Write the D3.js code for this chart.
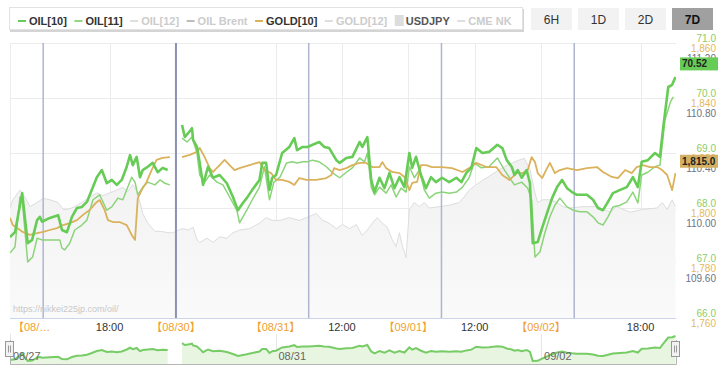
<!DOCTYPE html>
<html>
<head>
<meta charset="utf-8">
<script src="https://cdn.jsdelivr.net/npm/d3@7"></script>
<style>
  body { margin: 0; background: #fff; }
  svg { font-family: "Liberation Sans", Arial, "Noto Sans CJK JP", sans-serif; }
</style>
</head>
<body>
<div id="chart"></div>
<script>
// time = hours since 2021-08-27 00:00 JST (weekend 08/28 06:00 - 08/30 06:00 is cut out of the axis)
const oil10 = [
  [0,67.47],[0.9,67.56],[2.2,68.27],[3.2,67.36],[4.0,67.42],[4.9,67.78],[5.4,67.84],[5.8,67.75],
  [7.2,67.82],[8.7,67.87],[9.4,67.60],[10.3,67.56],[11.2,67.84],[12.1,68.00],[13.0,68.02],[13.9,68.11],
  [14.8,68.33],[15.7,68.56],[16.6,68.69],[17.5,68.45],[18.4,68.51],[19.3,68.42],[20.2,68.51],[21.1,68.75],
  [21.7,68.96],[22.2,68.78],[22.9,68.93],[23.5,68.56],[24.0,68.69],[24.9,68.75],[25.8,68.82],[26.7,68.65],
  [27.6,68.73],[28.5,68.69],[29.5,null],
  [79.1,69.51],[79.6,69.29],[80.2,69.36],[80.9,69.45],[81.1,69.24],[81.8,69.11],[82.3,68.82],[82.9,68.42],
  [83.8,68.75],[84.7,68.55],[85.9,68.60],[87.2,68.45],[88.3,68.20],[89.2,67.96],[90.1,68.09],[90.8,68.18],
  [91.8,68.33],[93.1,68.51],[93.6,68.82],[94.3,68.82],[94.9,68.33],[95.4,68.55],[96.1,68.60],[97.2,69.00],
  [98.5,69.11],[99.4,69.27],[99.9,69.05],[100.9,69.11],[101.8,69.11],[102.7,69.15],[103.9,69.20],[104.8,69.11],
  [105.7,69.09],[107.0,68.87],[107.6,68.82],[108.8,68.91],[109.9,68.93],[111.2,69.20],[111.7,69.11],[112.6,69.29],
  [113.3,68.51],[113.9,68.29],[114.8,68.55],[115.7,68.36],[116.6,68.64],[117.5,68.36],[118.4,68.56],[119.3,68.38],
  [120.2,69.00],[120.7,68.73],[121.4,68.93],[122.3,68.60],[123.2,68.36],[124.1,68.56],[125.0,68.47],[126.1,68.55],
  [127.4,68.47],[128.7,68.55],[129.6,68.47],[130.5,68.64],[131.4,68.73],[132.3,69.09],[133.4,69.00],[134.6,69.02],
  [136.1,69.15],[137.0,69.09],[137.8,68.87],[138.7,68.75],[139.2,68.60],[139.8,68.69],[140.5,68.55],[141.4,68.69],
  [142.0,68.45],[142.5,67.36],[143.4,67.38],[144.2,67.64],[145.1,67.91],[146.0,68.18],[146.9,68.38],[147.8,68.51],
  [148.7,68.36],[149.6,68.29],[150.5,68.24],[152.3,68.24],[153.4,68.15],[154.3,68.00],[155.2,67.96],[156.1,68.11],
  [157.0,68.27],[158.3,68.33],[159.5,68.38],[160.6,68.56],[161.5,68.38],[162.2,68.84],[163.3,68.87],[164.6,69.00],
  [165.5,68.93],[166.1,69.47],[167.0,70.20],[167.7,70.24],[168.3,70.38]
];
const oil11 = [
  [0,67.18],[0.9,67.29],[1.8,68.20],[2.2,68.15],[3.2,67.02],[4.1,67.11],[4.9,67.45],[5.8,67.42],
  [7.2,67.42],[9.0,67.42],[9.4,67.27],[9.9,67.24],[10.8,67.36],[11.7,67.60],[13.0,67.69],[13.9,67.78],
  [15.0,68.15],[16.2,68.24],[17.5,67.96],[18.4,68.02],[19.5,68.18],[20.4,68.15],[21.3,68.38],[22.0,68.56],
  [22.6,68.47],[23.1,68.24],[24.0,68.38],[24.9,68.47],[26.2,68.42],[27.1,68.51],[28.0,68.45],[28.9,68.42],[29.5,null],
  [79.1,69.27],[80.0,69.20],[80.9,69.29],[81.8,69.00],[82.3,68.60],[83.2,68.47],[84.1,68.60],[85.4,68.47],
  [86.5,68.42],[87.7,68.20],[89.0,67.96],[89.5,67.73],[90.8,67.96],[91.8,68.15],[93.1,68.38],[94.0,68.75],
  [94.9,68.15],[95.7,68.47],[96.8,68.56],[98.0,68.82],[99.0,68.84],[99.9,68.82],[100.9,68.84],[101.8,68.84],
  [102.7,68.87],[103.9,68.84],[105.2,68.75],[106.3,68.64],[107.6,68.55],[108.8,68.65],[109.9,68.73],[111.2,68.91],
  [112.1,68.84],[112.6,69.00],[113.3,68.38],[113.9,68.24],[114.8,68.38],[116.0,68.27],[116.9,68.42],[117.8,68.20],
  [118.7,68.36],[119.6,68.29],[120.2,68.75],[121.1,68.55],[122.0,68.69],[122.9,68.33],[123.8,68.18],[125.0,68.27],
  [126.1,68.29],[127.4,68.27],[128.7,68.29],[129.8,68.38],[131.0,68.55],[131.9,68.82],[133.2,68.73],[134.6,68.75],
  [136.1,68.91],[137.4,68.69],[138.3,68.55],[139.2,68.42],[140.5,68.47],[141.6,68.36],[142.3,68.15],[142.9,67.11],
  [143.8,67.20],[144.7,67.55],[145.6,67.84],[146.5,68.05],[147.4,68.18],[148.7,68.02],[149.8,67.96],[151.0,67.93],
  [152.3,67.93],[153.4,67.84],[154.3,67.73],[155.2,67.69],[156.1,67.84],[157.0,68.02],[158.3,68.05],[159.5,68.11],
  [160.6,68.29],[161.5,68.09],[162.2,68.60],[163.3,68.65],[164.6,68.75],[165.5,68.78],[166.4,69.60],[167.4,69.93],
  [167.9,70.02]
];
const gold10 = [
  [0,1796.4],[0.5,1793.8],[1.3,1792.7],[2.3,1791.3],[3.6,1790.2],[4.9,1790.9],[6.0,1791.3],[7.2,1792.0],
  [8.5,1792.7],[9.6,1793.8],[10.8,1794.5],[12.1,1795.6],[13.2,1797.5],[14.4,1799.3],[15.7,1802.2],[16.2,1802.9],
  [17.1,1799.3],[17.7,1795.6],[18.6,1794.9],[19.8,1794.9],[21.1,1793.8],[22.0,1790.2],[22.6,1788.4],[23.1,1803.6],
  [23.8,1806.5],[24.7,1809.5],[25.6,1813.8],[26.5,1817.5],[27.6,1818.2],[28.9,1818.5],[29.5,null],
  [79.1,1818.5],[80.5,1819.3],[81.8,1820.4],[82.3,1821.8],[83.2,1818.5],[84.1,1814.5],[84.7,1813.1],[85.9,1815.6],
  [86.8,1817.5],[87.7,1815.6],[88.6,1813.8],[89.5,1814.5],[91.3,1815.6],[93.1,1816.7],[94.0,1813.8],[95.2,1812.7],
  [96.1,1810.2],[97.2,1810.2],[98.5,1809.5],[99.4,1808.4],[100.3,1810.9],[101.6,1810.2],[103.4,1810.2],[105.2,1810.9],
  [106.1,1812.0],[106.6,1814.5],[107.6,1813.8],[108.8,1814.5],[109.9,1815.6],[111.2,1816.4],[112.4,1816.4],[113.5,1814.9],
  [114.8,1814.9],[115.3,1816.7],[116.0,1814.5],[117.1,1813.1],[118.4,1812.7],[119.3,1811.3],[120.2,1806.5],[120.7,1809.1],
  [121.6,1809.5],[122.3,1815.6],[123.2,1815.6],[124.3,1814.9],[126.1,1814.9],[127.9,1814.5],[129.8,1813.1],[131.0,1814.5],
  [132.3,1816.4],[134.1,1814.9],[135.9,1814.9],[137.0,1812.0],[138.3,1810.2],[139.6,1812.7],[140.7,1812.7],[141.6,1813.8],
  [142.3,1818.5],[142.9,1816.7],[143.4,1812.7],[144.2,1810.9],[145.1,1814.5],[145.6,1816.4],[146.5,1812.7],[147.4,1813.8],
  [148.7,1814.5],[150.5,1813.8],[152.3,1814.5],[154.1,1814.9],[155.2,1813.1],[156.8,1811.3],[157.9,1810.9],[159.2,1813.8],
  [160.4,1812.7],[161.3,1814.9],[162.4,1815.6],[163.7,1814.9],[165.0,1814.9],[165.9,1813.8],[166.8,1812.0],[167.7,1806.5],
  [168.3,1812.7]
];
const usdjpy = [
  [0,110.00],[0.5,110.06],[1.8,110.13],[2.7,110.08],[3.6,110.01],[4.9,110.04],[6.0,110.07],[7.2,110.06],
  [8.7,110.04],[9.6,109.99],[10.5,109.99],[11.7,110.01],[13.0,110.04],[14.1,110.07],[15.7,110.11],[16.8,110.09],
  [18.0,110.11],[19.3,110.13],[20.4,110.15],[21.3,110.12],[22.2,110.17],[22.9,110.12],[23.5,110.04],[24.0,109.96],
  [24.9,109.89],[26.2,109.83],[27.4,109.83],[28.5,109.82],[29.4,109.82],
  [79.1,109.85],[80.2,109.84],[81.1,109.86],[81.8,109.77],[82.3,109.75],[83.6,109.78],[84.7,109.75],[85.9,109.79],
  [87.2,109.78],[88.3,109.82],[89.5,109.84],[91.3,109.85],[93.1,109.89],[94.3,109.93],[95.4,109.91],[96.8,109.91],
  [98.5,109.93],[100.3,109.91],[101.6,109.93],[103.4,109.96],[104.5,109.91],[105.7,109.89],[107.0,109.85],[108.1,109.88],
  [109.4,109.85],[110.6,109.88],[111.7,109.80],[112.6,109.84],[113.5,109.89],[114.4,109.93],[115.3,109.89],[116.2,109.86],
  [117.1,109.77],[117.8,109.72],[118.4,109.82],[118.9,109.73],[119.6,109.64],[120.2,109.99],[121.1,110.04],[122.0,110.01],
  [122.9,110.04],[123.8,110.00],[125.6,110.01],[127.4,110.02],[129.2,110.04],[130.1,110.08],[131.0,110.13],[132.3,110.17],
  [133.4,110.20],[134.6,110.23],[136.5,110.28],[137.8,110.31],[138.9,110.33],[140.1,110.35],[141.0,110.36],[142.0,110.28],
  [142.9,110.11],[143.4,110.04],[144.3,110.06],[145.6,110.06],[146.9,110.04],[148.0,110.01],[149.2,110.00],[151.6,110.01],
  [154.1,110.01],[156.5,109.97],[157.7,110.01],[160.1,109.97],[162.4,109.99],[165.0,110.00],[165.9,110.04],[166.8,109.99],
  [167.7,110.06],[168.3,110.01]
];
const lastOil = 70.52;
const lastGold = 1815.0;

const oilTicks = [66, 67, 68, 69, 70, 71];
const goldTicks = [1760, 1780, 1800, 1820, 1840, 1860];
const usdTicks = [109.6, 110.0, 110.4, 110.8, 111.2];
const timeTicks = [0, 18, 78, 96, 108, 120, 132, 144, 162];
const timeLabels = ["【08/…", "18:00", "【08/30】", "【08/31】", "12:00", "【09/01】", "12:00", "【09/02】", "18:00"];
const sessionStarts = [6, 78, 102, 126, 150];
const navTicks = [0, 96, 144];
const navLabels = ["08/27", "08/31", "09/02"];
const legendNames = ["OIL[10]", "OIL[11]", "OIL[12]", "OIL Brent", "GOLD[10]", "GOLD[12]", "USDJPY", "CME NK"];
const rangeButtons = ["6H", "1D", "2D", "7D"];

// ---- layout
const W = 726, H = 372;
const plot = {left: 10, right: 676, top: 43, bottom: 318};
const gapFrom = 30, gapTo = 78, tEnd = 168.4;
const xGap = plot.left + (plot.right - plot.left) * gapFrom / (gapFrom + tEnd - gapTo);

const x = d3.scaleLinear()
  .domain([0, gapFrom, gapTo, tEnd])
  .range([plot.left, xGap, xGap, plot.right]);
const yOil = d3.scaleLinear().domain([66, 71]).range([plot.bottom, plot.top]);
const yGold = d3.scaleLinear().domain([1760, 1860]).range([plot.bottom, plot.top]);
const yUsd = d3.scaleLinear().domain([109.2, 111.2]).range([plot.bottom, plot.top]);

const svg = d3.select("#chart").append("svg")
  .attr("width", W).attr("height", H);

svg.append("clipPath").attr("id", "clip")
  .append("rect")
  .attr("x", plot.left).attr("y", plot.top)
  .attr("width", plot.right - plot.left).attr("height", plot.bottom - plot.top);

const grad = svg.append("linearGradient").attr("id", "usdFill")
  .attr("x1", 0).attr("y1", 0).attr("x2", 0).attr("y2", 1);
grad.append("stop").attr("offset", "0%").attr("stop-color", "#f1f1f1");
grad.append("stop").attr("offset", "100%").attr("stop-color", "#fafafa");

// grid
svg.append("g").selectAll("line").data(oilTicks).join("line")
  .attr("x1", plot.left).attr("x2", plot.right)
  .attr("y1", d => Math.round(yOil(d)) + 0.5).attr("y2", d => Math.round(yOil(d)) + 0.5)
  .attr("stroke", "#ececec");
svg.append("g").selectAll("line").data(timeTicks).join("line")
  .attr("x1", d => Math.round(x(d)) + 0.5).attr("x2", d => Math.round(x(d)) + 0.5)
  .attr("y1", plot.top).attr("y2", plot.bottom)
  .attr("stroke", "#ececec");

const g = svg.append("g").attr("clip-path", "url(#clip)");

// USDJPY area
g.append("path").datum(usdjpy)
  .attr("fill", "url(#usdFill)")
  .attr("d", d3.area().x(d => x(d[0])).y0(plot.bottom).y1(d => yUsd(d[1])));
g.append("path").datum(usdjpy)
  .attr("fill", "none").attr("stroke", "#dddddd").attr("stroke-width", 1)
  .attr("d", d3.line().x(d => x(d[0])).y(d => yUsd(d[1])));

// session start lines
g.selectAll(".sess").data(sessionStarts).join("line")
  .attr("class", "sess")
  .attr("x1", d => x(d)).attr("x2", d => x(d))
  .attr("y1", plot.top).attr("y2", plot.bottom)
  .attr("stroke", d => d === gapTo ? "#8a90b6" : "#afb5d0")
  .attr("stroke-width", d => d === gapTo ? 2 : 1.5);

const lineOf = y => d3.line().defined(d => d[1] != null).x(d => x(d[0])).y(d => y(d[1]));

g.append("path").datum(oil11)
  .attr("fill", "none").attr("stroke", "#8bd47a").attr("stroke-width", 1.5)
  .attr("stroke-linejoin", "round").attr("d", lineOf(yOil));
g.append("path").datum(gold10)
  .attr("fill", "none").attr("stroke", "#dab25c").attr("stroke-width", 1.8)
  .attr("stroke-linejoin", "round").attr("d", lineOf(yGold));
g.append("path").datum(oil10)
  .attr("fill", "none").attr("stroke", "#66cc55").attr("stroke-width", 2.6)
  .attr("stroke-linejoin", "round").attr("d", lineOf(yOil));

// watermark
svg.append("text").attr("x", plot.left + 3).attr("y", plot.bottom - 6)
  .attr("font-size", 9).attr("fill", "#c8c8c8")
  .text("https://nikkei225jp.com/oil/");

// x axis
svg.append("line")
  .attr("x1", plot.left).attr("x2", plot.right)
  .attr("y1", plot.bottom + 0.5).attr("y2", plot.bottom + 0.5)
  .attr("stroke", "#ccd6eb");
svg.append("g").selectAll("text").data(timeTicks).join("text")
  .attr("x", (d, i) => i === 0 ? x(d) + 3 : x(d))
  .attr("y", plot.bottom + 13)
  .attr("text-anchor", (d, i) => i === 0 ? "start" : "middle")
  .attr("font-size", 11)
  .attr("fill", (d, i) => timeLabels[i].startsWith("【") ? "#f0a030" : "#333")
  .text((d, i) => timeLabels[i]);

// right axes (three stacked label sets)
const ax = svg.append("g").attr("text-anchor", "end").attr("font-size", 10);
ax.selectAll(".o").data(oilTicks).join("text").attr("class", "o")
  .attr("x", 716).attr("y", d => yOil(d) - 1).attr("fill", "#8ccc6a")
  .text(d3.format(".1f"));
ax.selectAll(".gd").data(goldTicks).join("text").attr("class", "gd")
  .attr("x", 716).attr("y", d => yGold(d) + 9).attr("fill", "#e6b85e")
  .text(d3.format(","));
ax.selectAll(".u").data(usdTicks).join("text").attr("class", "u")
  .attr("x", 716).attr("y", d => yUsd(d) + 19).attr("fill", "#6a7487")
  .text(d3.format(".2f"));

// current value tags
[[yOil(lastOil), "#66cc55", d3.format(".2f")(lastOil)],
 [yGold(lastGold), "#d4b062", d3.format(",.1f")(lastGold)]].forEach(([yy, col, txt]) => {
  svg.append("rect").attr("x", 680).attr("y", yy - 12).attr("width", 38).attr("height", 13).attr("fill", col);
  svg.append("text").attr("x", 682).attr("y", yy - 2)
    .attr("font-size", 10).attr("font-weight", "bold").attr("fill", "#222").text(txt);
});

// navigator
const nav = {top: 334, bottom: 364};
const navVals = oil10.filter(d => d[1] != null).map(d => d[1]);
const yNav = d3.scaleLinear().domain(d3.extent(navVals)).range([361, 336]);
svg.append("g").selectAll("line").data(navTicks).join("line")
  .attr("x1", d => Math.round(x(d)) + 0.5).attr("x2", d => Math.round(x(d)) + 0.5)
  .attr("y1", nav.top).attr("y2", nav.bottom).attr("stroke", "#e6e6e6");
svg.append("path").datum(oil10)
  .attr("fill", "#e7f5e1")
  .attr("d", d3.area().defined(d => d[1] != null).x(d => x(d[0])).y0(nav.bottom).y1(d => yNav(d[1])));
svg.append("path").datum(oil10)
  .attr("fill", "none").attr("stroke", "#77cc66").attr("stroke-width", 2)
  .attr("d", lineOf(yNav));
svg.append("g").selectAll("text").data(navTicks).join("text")
  .attr("x", d => x(d) + 3).attr("y", 360)
  .attr("font-size", 11).attr("fill", "#666")
  .text((d, i) => navLabels[i]);
svg.append("path")
  .attr("d", `M${plot.left + 0.5},${nav.top + 6}V${nav.bottom + 0.5}H${plot.right + 0.5}V${nav.top + 6}`)
  .attr("fill", "none").attr("stroke", "#b5b5b5");
[plot.left, plot.right].forEach(hx => {
  const h = svg.append("g").attr("transform", `translate(${Math.round(hx) - 4.5},341.5)`);
  h.append("rect").attr("width", 8).attr("height", 15).attr("fill", "#f2f2f2").attr("stroke", "#999");
  h.append("path").attr("d", "M3,4V11M5,4V11").attr("stroke", "#999");
});

// legend
const legendStyle = [
  {color: "#66cc55", on: true}, {color: "#90d880", on: true}, {color: "#dedede", on: false},
  {color: "#bdbdbd", on: false}, {color: "#dab25c", on: true}, {color: "#dedede", on: false},
  {color: "#dddddd", on: true, box: true}, {color: "#dedede", on: false}
];
const lg = svg.append("g");
lg.append("rect").attr("x", 10).attr("y", 9).attr("width", 514).attr("height", 23).attr("fill", "#d4d4d4");
lg.append("rect").attr("x", 9.5).attr("y", 7.5).attr("width", 513).attr("height", 22)
  .attr("fill", "#fff").attr("stroke", "#e2e2e2");
let lx = 18;
legendNames.forEach((name, i) => {
  const s = legendStyle[i];
  if (s.box) {
    lg.append("rect").attr("x", lx).attr("y", 15).attr("width", 9).attr("height", 11).attr("fill", s.color);
  } else {
    lg.append("line").attr("x1", lx).attr("x2", lx + 8).attr("y1", 21).attr("y2", 21)
      .attr("stroke", s.color).attr("stroke-width", 2);
  }
  const t = lg.append("text").attr("x", lx + 11).attr("y", 25)
    .attr("font-size", 11).attr("font-weight", "bold")
    .attr("fill", s.on ? (s.box ? "#555" : "#333") : "#cccccc")
    .text(name);
  lx += 11 + t.node().getComputedTextLength() + 7.5;
});

// range buttons
const bt = svg.append("g").selectAll("g").data(rangeButtons).join("g")
  .attr("transform", (d, i) => `translate(${531 + i * 47},8)`);
bt.append("rect").attr("width", 41).attr("height", 22)
  .attr("fill", (d, i) => i === 3 ? "#a0a0a0" : "#f2f2f2");
bt.append("text").attr("x", 20.5).attr("y", 15.5).attr("text-anchor", "middle")
  .attr("font-size", 12).attr("font-weight", (d, i) => i === 3 ? "bold" : "normal")
  .attr("fill", (d, i) => i === 3 ? "#111" : "#333")
  .text(d => d);
</script>
</body>
</html>
